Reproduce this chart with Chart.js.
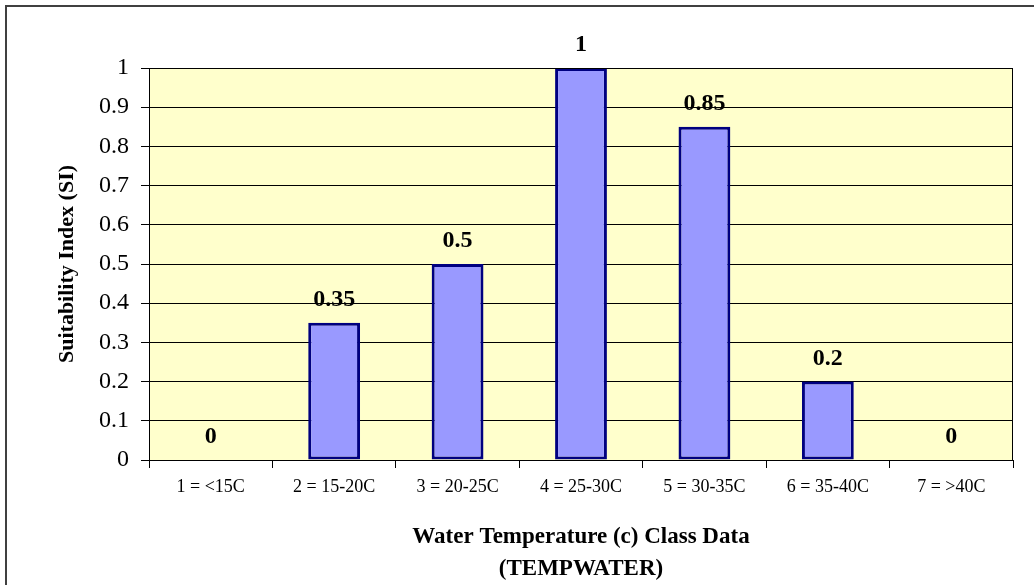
<!DOCTYPE html>
<html>
<head>
<meta charset="utf-8">
<script src="https://cdn.jsdelivr.net/npm/chart.js@4/dist/chart.umd.min.js"></script>
<style>
    html, body { margin: 0; padding: 0; background: #fff; }
    #wrap { width: 1034px; height: 585px; position: relative; }
</style>
</head>
<body>
<div id="wrap"><canvas id="siChart" width="1034" height="585"></canvas></div>
<script>
// data
const categories = ['1 = <15C', '2 = 15-20C', '3 = 20-25C', '4 = 25-30C', '5 = 30-35C', '6 = 35-40C', '7 = >40C'];
const suitability = [0, 0.35, 0.5, 1, 0.85, 0.2, 0];
const yTitle = 'Suitability Index (SI)';
const xTitle = ['Water Temperature (c) Class Data', '(TEMPWATER)'];

const serif = "'Liberation Serif', 'Times New Roman', serif";

// outer frame + yellow plot background + plot border
const framePlugin = {
    id: 'frame',
    beforeDraw(chart) {
        const c = chart.ctx;
        const a = chart.chartArea;
        c.save();
        c.fillStyle = '#fff';
        c.fillRect(0, 0, chart.width, chart.height);
        c.fillStyle = '#FFFFCC';
        c.fillRect(a.left, a.top, a.right - a.left, a.bottom - a.top);
        c.strokeStyle = '#404040';
        c.lineWidth = 2;
        c.beginPath();
        c.moveTo(6, chart.height);
        c.lineTo(6, 6);
        c.lineTo(chart.width, 6);
        c.stroke();
        c.restore();
    },
    afterDraw(chart) {
        const c = chart.ctx;
        const a = chart.chartArea;
        c.save();
        c.strokeStyle = '#000';
        c.lineWidth = 1;
        c.strokeRect(a.left + 0.5, a.top + 0.5, a.right - a.left - 1, a.bottom - a.top);
        c.restore();
    }
};

// bold value labels above each bar
const valueLabels = {
    id: 'valueLabels',
    afterDatasetsDraw(chart) {
        const c = chart.ctx;
        const meta = chart.getDatasetMeta(0);
        c.save();
        c.font = 'bold 24px ' + serif;
        c.fillStyle = '#000';
        c.textAlign = 'center';
        c.textBaseline = 'alphabetic';
        meta.data.forEach(function (bar, i) {
            c.fillText(String(suitability[i]), bar.x, bar.y - 17);
        });
        c.restore();
    }
};

new Chart(document.getElementById('siChart'), {
    type: 'bar',
    data: {
        labels: categories,
        datasets: [{
            data: suitability,
            backgroundColor: '#9999FF',
            borderColor: '#000080',
            borderWidth: 3,
            borderSkipped: false,
            barPercentage: 0.42,
            categoryPercentage: 1
        }]
    },
    options: {
        responsive: false,
        animation: false,
        layout: { padding: { left: 0, right: 21, top: 68, bottom: 0 } },
        plugins: {
            legend: { display: false },
            tooltip: { enabled: false }
        },
        scales: {
            x: {
                offset: true,
                grid: { drawOnChartArea: false, drawTicks: true, tickLength: 8, color: '#000', offset: true },
                border: { color: '#000', width: 1 },
                ticks: { color: '#000', font: { family: serif, size: 18 }, padding: 8, maxRotation: 0, autoSkip: false },
                title: {
                    display: true,
                    text: xTitle,
                    color: '#000',
                    font: { family: serif, size: 23, weight: 'bold', lineHeight: 1.39 },
                    padding: { top: 34, bottom: 0 }
                },
                afterFit(scale) { scale.height = 125; }
            },
            y: {
                min: 0,
                max: 1,
                grid: { color: '#000', tickLength: 8, lineWidth: 1 },
                border: { color: '#000', width: 1 },
                ticks: {
                    stepSize: 0.1,
                    color: '#000',
                    font: { family: serif, size: 24 },
                    padding: 12,
                    callback: function (v) { return String(Number(v.toFixed(1))); }
                },
                title: {
                    display: true,
                    text: yTitle,
                    color: '#000',
                    font: { family: serif, size: 22, weight: 'bold' },
                    padding: { top: 54, bottom: 0 }
                },
                afterFit(scale) { scale.width = 149; }
            }
        }
    },
    plugins: [framePlugin, valueLabels]
});
</script>
</body>
</html>
